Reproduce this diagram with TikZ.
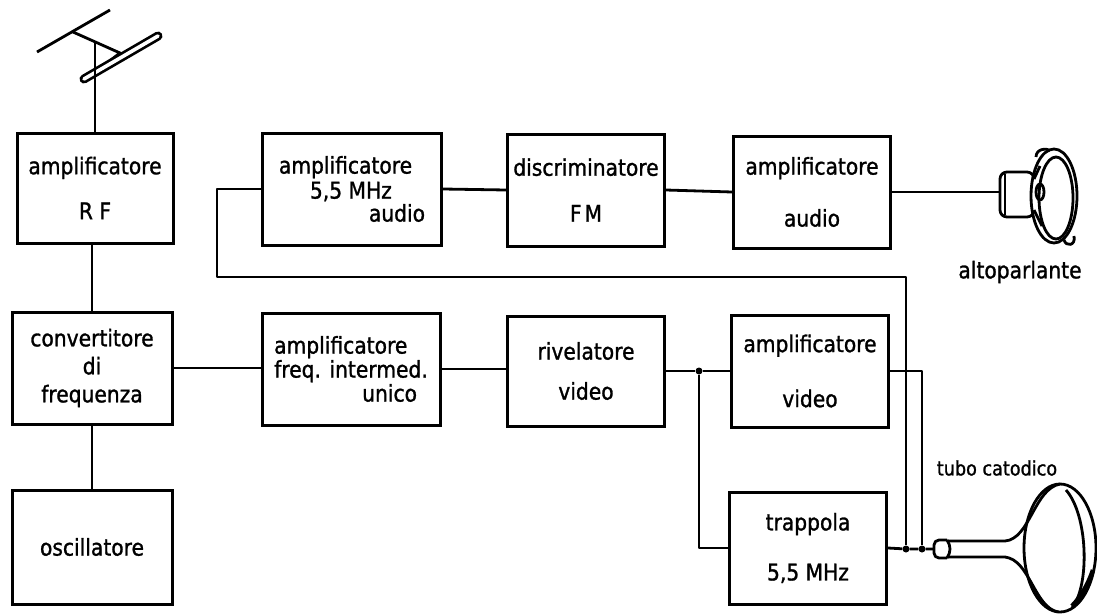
\documentclass[tikz,border=0pt]{standalone}
\usepackage{fontspec}
\setmainfont[FakeStretch=0.88, FakeBold=1.2]{DejaVu Sans}

\begin{document}
\begin{tikzpicture}[
    x=1pt, y=-1pt,
    block/.style={rectangle, draw=black, line width=3pt, minimum width=157pt, minimum height=112pt, align=center, inner sep=2pt, font=\fontsize{23}{28}\selectfont},
    wide/.style={block, minimum width=178pt, align=left},
    wire/.style={line width=2.8pt, line join=round},
    junction/.style={circle, fill=black, inner sep=0pt, minimum size=7pt},
    caption/.style={inner sep=0pt, font=\fontsize{23}{28}\selectfont}
]
\useasboundingbox (0,0) rectangle (1097,613);

% front end: rf amplifier, converter, local oscillator
\node[block, minimum width=156pt, minimum height=110pt] (rf) at (95,188) {amplificatore\\[17pt]R F};
\node[block, minimum width=160pt] (conv) at (92,368) {convertitore\\di\\frequenza};
\node[block, minimum width=160pt, minimum height=114pt] (osc) at (92,547) {oscillatore};

% video chain
\node[wide] (ifamp) at (351,369) {amplificatore\\[-4pt]freq. intermed.\\[-4pt]\hspace*{88pt}unico};
\node[block, minimum height=110pt] (det) at (586,371) {rivelatore\\[12pt]video};
\node[block] (vamp) at (810,371) {amplificatore\\[27pt]video};
\node[block] (trap) at (808,548) {trappola\\[22pt]5,5 MHz};

% sound chain
\node[wide, minimum width=179pt] (aamp) at (352,189) {amplificatore\\[-3pt]\hspace*{31pt}5,5 MHz\\[-5pt]\hspace*{90pt}audio};
\node[block] (disc) at (586,190) {discriminatore\\[18pt]F\kern3pt M};
\node[block] (afamp) at (812,192) {amplificatore\\[24pt]audio};

% antenna
\draw[wire] (37,52) -- (110,10);
\draw[wire] (73,32) -- (120,53) -- (95,72);
\draw[line width=9pt, line cap=round] (84,79) -- (158,36);
\draw[line width=3.6pt, line cap=round, white] (84,79) -- (158,36);
\coordinate (feed) at (95,42);
\draw[wire] (feed) -- (rf.north);

% connections
\draw[wire] (conv.north) -- (conv.north |- rf.south);
\draw[wire] (conv) -- (osc);
\draw[wire] (conv.east) -- (conv.east -| ifamp.west);
\draw[wire] (ifamp.east) -- (ifamp.east -| det.west);
\node[junction] (split) at (699,371) {};
\draw[wire] (det.east) -- (split) -- (vamp.west);
\draw[wire] (split) |- (trap.west);
\draw[wire] (aamp.east) -- (disc.west);
\draw[wire] (disc.east) -- (afamp.west);

\coordinate (spk) at (1000,192);
\draw[wire] (afamp.east) -- (spk);

\node[junction] (tapA) at (906,549) {};
\node[junction] (tapB) at (922,549) {};
\coordinate (neck) at (934,549);
\draw[wire] (aamp.west) -| (217,277) -| (tapA);
\draw[wire] (vamp.east) -| (tapB);
\draw[wire] (trap.east) -- (tapA) -- (tapB) -- (neck);

% loudspeaker
\draw[wire, fill=white, rounded corners=7pt] (1000,172) rectangle (1034,217);
\draw[wire] (1005,174) -- (1005,215);
\draw[wire, fill=white] (1054,196) ellipse [x radius=23pt, y radius=47pt];
\draw[wire] (1056,198) ellipse [x radius=17pt, y radius=41pt];
\draw[wire] (1040,192) ellipse [x radius=4pt, y radius=8pt];
\draw[wire] (1036,157) .. controls (1036,148) and (1048,148) .. (1050,151);
\draw[wire] (1064,240) .. controls (1066,247) and (1076,246) .. (1074,236);
\draw[wire] (1034,179) -- (1040,166);
\draw[wire] (1034,210) -- (1042,226);
\node[caption] (spklabel) at (1020,272) {altoparlante};

% picture tube
\draw[wire, rounded corners=5pt] (947,540) -- (934,540) -- (934,558) -- (947,558);
\draw[wire] (947,540) .. controls (951,546) and (951,552) .. (947,558);
\draw[wire] (947,541) -- (1005,541) .. controls (1030,539) and (1034,489) .. (1060,484);
\draw[wire] (947,557) -- (1005,557) .. controls (1030,560) and (1034,607) .. (1058,612);
\draw[wire] (1060,548) ellipse [x radius=36pt, y radius=64pt];
\draw[wire] (1066,490) .. controls (1088,515) and (1090,585) .. (1072,608);
\draw[line width=4.5pt] (1072,606) .. controls (1080,598) and (1088,585) .. (1093,570);
\node[caption, font=\fontsize{20}{24}\selectfont] (crtlabel) at (997,468) {tubo catodico};
\end{tikzpicture}
\end{document}
